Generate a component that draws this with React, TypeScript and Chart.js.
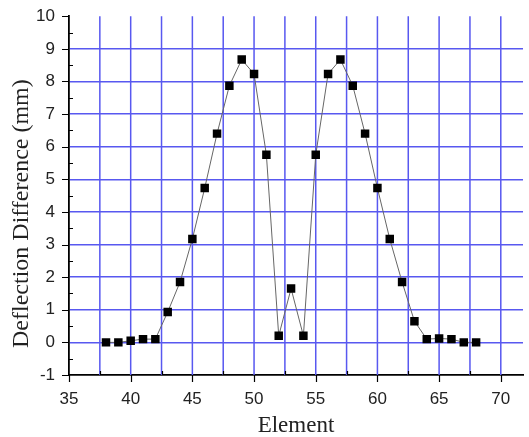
import React, { useEffect, useRef } from "react";
import { Chart, registerables } from "chart.js";

Chart.register(...registerables);

const elements = [38, 39, 40, 41, 42, 43, 44, 45, 46, 47, 48, 49, 50, 51, 52, 53, 54, 55, 56, 57, 58, 59, 60, 61, 62, 63, 64, 65, 66, 67, 68];
const deflection = [0.0, 0.0, 0.05, 0.1, 0.1, 0.93, 1.85, 3.17, 4.73, 6.4, 7.87, 8.67, 8.23, 5.75, 0.2, 1.65, 0.2, 5.75, 8.23, 8.67, 7.87, 6.4, 4.73, 3.17, 1.85, 0.65, 0.1, 0.12, 0.1, 0.0, 0.0];
const xTicks = [35, 37.5, 40, 42.5, 45, 47.5, 50, 52.5, 55, 57.5, 60, 62.5, 65, 67.5, 70];
const yTicks = [-1, -0.5, 0, 0.5, 1, 1.5, 2, 2.5, 3, 3.5, 4, 4.5, 5, 5.5, 6, 6.5, 7, 7.5, 8, 8.5, 9, 9.5, 10];

const GRID = "#5858f0";
const NONE = "rgba(0,0,0,0)";

const axisDecor = {
  id: "axisDecor",
  beforeDatasetsDraw(chart: any) {
    const ctx = chart.ctx;
    const xs = chart.scales.x;
    const area = chart.chartArea;
    ctx.save();
    ctx.strokeStyle = GRID;
    ctx.lineWidth = 1.5;
    ctx.beginPath();
    xTicks.forEach((v) => {
      if (v === 35) return;
      const x = xs.getPixelForValue(v);
      ctx.moveTo(x, area.top);
      ctx.lineTo(x, area.bottom);
    });
    ctx.stroke();
    ctx.restore();
  },
  afterDraw(chart: any) {
    const ctx = chart.ctx;
    const xs = chart.scales.x;
    const ys = chart.scales.y;
    const area = chart.chartArea;
    ctx.save();
    ctx.strokeStyle = "#000";
    ctx.lineWidth = 1.2;
    ctx.beginPath();
    yTicks.forEach((v) => {
      const y = Math.round(ys.getPixelForValue(v)) + 0.5;
      if (Number.isInteger(v)) {
        ctx.moveTo(area.left - 7, y);
        ctx.lineTo(area.left, y);
      } else {
        ctx.moveTo(area.left, y);
        ctx.lineTo(area.left + 4, y);
      }
    });
    xTicks.forEach((v) => {
      const x = Math.round(xs.getPixelForValue(v)) + 0.5;
      if (v % 5 === 0) {
        ctx.moveTo(x, area.bottom);
        ctx.lineTo(x, area.bottom + 7);
      } else {
        ctx.moveTo(x, area.bottom);
        ctx.lineTo(x, area.bottom - 4);
      }
    });
    ctx.stroke();
    ctx.restore();
  },
};

export default function App() {
  const ref = useRef<HTMLCanvasElement | null>(null);
  useEffect(() => {
    if (!ref.current) return;
    const chart = new Chart(ref.current, {
      type: "line",
      data: {
        datasets: [
          {
            data: elements.map((e, i) => ({ x: e, y: deflection[i] })),
            borderColor: "#666",
            borderWidth: 1,
            backgroundColor: "#000",
            pointBackgroundColor: "#000",
            pointBorderColor: "#000",
            pointBorderWidth: 0,
            pointStyle: "rect",
            pointRadius: 6,
            tension: 0,
          },
        ],
      },
      options: {
        animation: false,
        responsive: false,
        layout: { padding: { top: 15, right: 0, left: 0, bottom: 0 } },
        plugins: { legend: { display: false }, tooltip: { enabled: false } },
        scales: {
          x: {
            type: "linear",
            min: 35,
            max: 71.8,
            afterBuildTicks: (s: any) => {
              s.ticks = xTicks.map((v) => ({ value: v }));
            },
            afterFit: (s: any) => {
              s.height = 62;
            },
            ticks: {
              autoSkip: false,
              maxRotation: 0,
              padding: 6,
              color: "#222",
              font: { family: "'Liberation Sans', Arial, sans-serif", size: 17 },
              callback: (v: any) => (Number(v) % 5 === 0 ? String(v) : ""),
            },
            grid: { display: false },
            border: { display: true, color: "#000", width: 1.8 },
            title: {
              display: true,
              text: "Element",
              color: "#222",
              font: { family: "'Liberation Serif', 'Times New Roman', serif", size: 23 },
              padding: { top: 0, bottom: -3 },
            },
          },
          y: {
            type: "linear",
            min: -1,
            max: 10,
            afterBuildTicks: (s: any) => {
              s.ticks = yTicks.map((v) => ({ value: v }));
            },
            afterFit: (s: any) => {
              s.width = 69;
            },
            ticks: {
              autoSkip: false,
              padding: 6,
              color: "#222",
              font: { family: "'Liberation Sans', Arial, sans-serif", size: 17 },
              callback: (v: any) => (Number.isInteger(Number(v)) ? String(v) : ""),
            },
            grid: {
              color: (c: any) => {
                const v = c.tick ? c.tick.value : 0;
                return Number.isInteger(v) && v !== -1 && v !== 10 ? GRID : NONE;
              },
              lineWidth: 1.5,
              drawTicks: true,
              tickLength: 8,
              tickColor: NONE,
            },
            border: { display: true, color: "#000", width: 1.8 },
            title: {
              display: true,
              text: "Deflection Difference (mm)\u00a0\u00a0\u00a0\u00a0\u00a0\u00a0",
              color: "#222",
              font: { family: "'Liberation Serif', 'Times New Roman', serif", size: 24 },
              padding: { top: 7, bottom: 0 },
            },
          },
        },
      },
      plugins: [axisDecor],
    });
    return () => chart.destroy();
  }, []);
  return (
    <div style={{ position: "fixed", left: 0, top: 0, width: 529, height: 437, background: "#fff" }}>
      <canvas ref={ref} width={529} height={437} />
    </div>
  );
}
